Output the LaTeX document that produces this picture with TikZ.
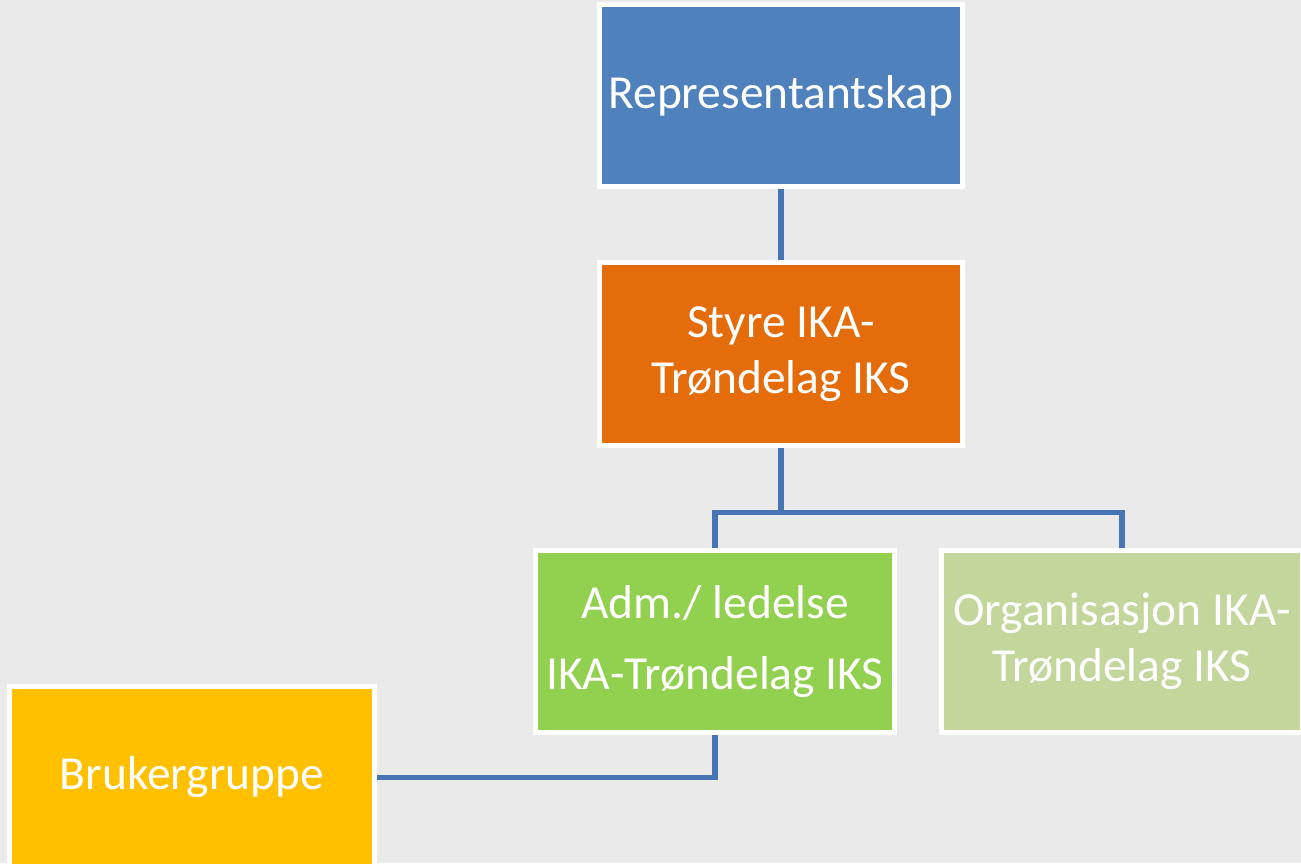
\documentclass[tikz,border=0pt]{standalone}
\usepackage{fontspec}
\setmainfont{Carlito}
\usepackage{tikz}
\usetikzlibrary{positioning,calc}
\definecolor{RepBlue}{HTML}{4F81BD}
\definecolor{StyreOrange}{HTML}{E46C0A}
\definecolor{AdmGreen}{HTML}{92D050}
\definecolor{OrgGreen}{HTML}{C3D69B}
\definecolor{BrukYellow}{HTML}{FFC000}
\definecolor{LinkBlue}{HTML}{4775B4}
\definecolor{BackGray}{HTML}{EAEAEA}
\tikzset{link/.style={draw=LinkBlue,line width=0.11cm}}

\begin{document}
\begin{tikzpicture}
		\tikzstyle{Unit}=[rectangle,draw=white,line width=0.1cm,text=white,align=center,
			minimum width=7.26cm,minimum height=3.64cm,inner sep=0pt,
			font=\fontsize{27}{32}\selectfont]

		\clip (0,0) rectangle (26.02,-17.26);
		\fill [BackGray] (0,0) rectangle (26.02,-17.26);

		\node [Unit,fill=RepBlue] (Rep) at (15.62,-1.91) {Representantskap};
		\node [Unit,fill=StyreOrange,minimum height=3.66cm] (Styre) at (15.62,-7.08) {Styre IKA-\\Trøndelag IKS};
		\node [Unit,fill=AdmGreen,minimum width=7.18cm] (Adm) at (14.3,-12.83) {Adm./ ledelse\\[0.3cm]IKA-Trøndelag IKS};
		\node [Unit,fill=OrgGreen,minimum width=7.22cm] (Org) at (22.44,-12.83) {Organisasjon IKA-\\Trøndelag IKS};
		\node [Unit,fill=BrukYellow,minimum width=7.3cm] (Bruk) at (3.84,-15.55) {Brukergruppe};

		\coordinate (Split) at (15.62,-10.25);

		\draw [link] (Rep) -- (Styre);
		\draw [link] (Styre) -- (Split) -| (Adm);
		\draw [link] (Split) -| (Org);
		\draw [link] (Adm) |- (Bruk);

\end{tikzpicture}
\end{document}
